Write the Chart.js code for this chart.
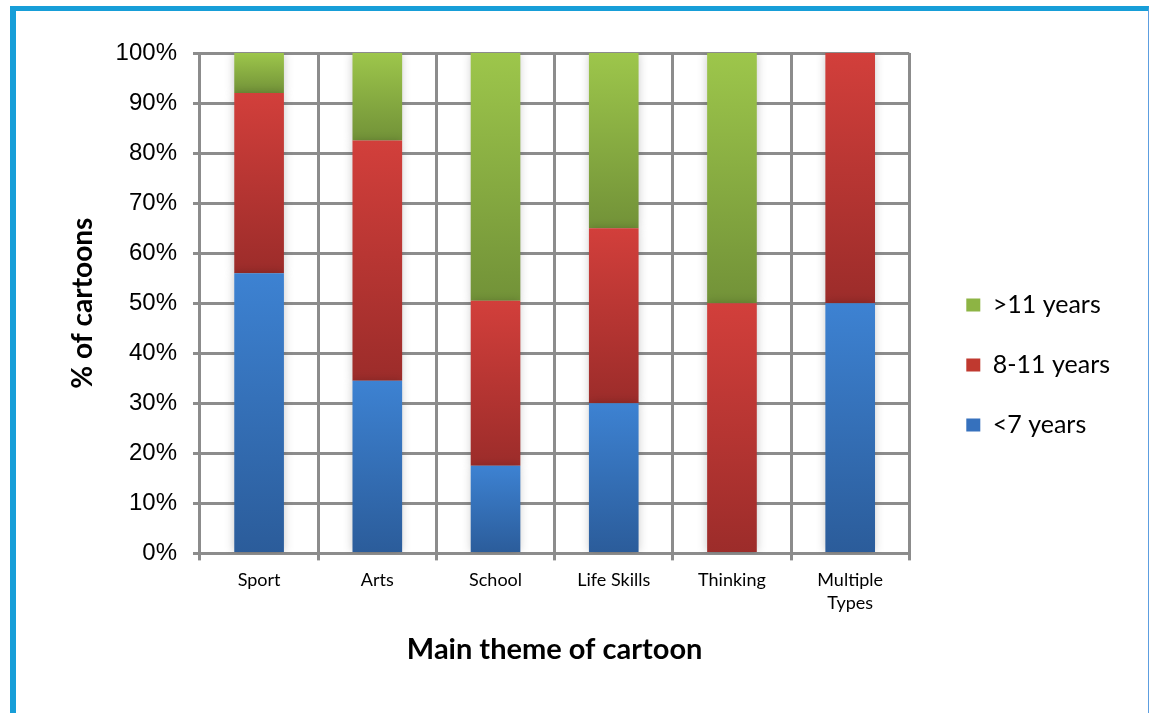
<!DOCTYPE html>
<html>
<head>
<meta charset="utf-8">
<title>Main theme of cartoon by age group</title>
<script src="https://cdn.jsdelivr.net/npm/chart.js@4.4.1/dist/chart.umd.min.js"></script>
<style>
  html, body { margin: 0; padding: 0; background: #fff; }
  body { width: 1149px; height: 713px; position: relative; overflow: hidden; }
  .frame {
    position: absolute; left: 10px; top: 6px; width: 1132px; height: 720px;
    border-top: 5px solid #179ed8; border-left: 6px solid #179ed8; border-right: 1px solid #5d9ee0;
  }
  .wrap { position: absolute; left: 0; top: 0; width: 1149px; height: 713px; }
</style>
</head>
<body>
<div class="frame"></div>
<div class="wrap"><canvas id="chart"></canvas></div>
<script>
// ── data ───────────────────────────────────────────────────────
const themes = ['Sport', 'Arts', 'School', 'Life Skills', 'Thinking', ['Multiple', 'Types']];
const under7 = [56, 34.5, 17.5, 30, 0, 50];
const age8to11 = [36, 48, 33, 35, 50, 50];
const over11 = [8, 17.5, 49.5, 35, 50, 0];
const yTicks = [0, 10, 20, 30, 40, 50, 60, 70, 80, 90, 100];

// top / bottom colours of each segment's vertical gradient
const palette = {
  blue:  { top: '#3d82d2', bottom: '#2b5c9a', flat: '#3671bd' },
  red:   { top: '#d23f3b', bottom: '#9c2c2a', flat: '#c0392f' },
  green: { top: '#9dc64b', bottom: '#729238', flat: '#8db444' }
};

const seriesList = [under7, age8to11, over11];

// each stacked segment gets its own gradient running from its top to its bottom
function segmentFill(colors) {
  return (ctx) => {
    if (ctx.type !== 'data') return colors.flat;
    const chart = ctx.chart;
    const y = chart.scales.y;
    if (!y || !chart.chartArea) return colors.flat;
    const i = ctx.dataIndex;
    let start = 0;
    for (let d = 0; d < ctx.datasetIndex; d++) start += seriesList[d][i];
    const end = start + seriesList[ctx.datasetIndex][i];
    const yTop = y.getPixelForValue(end);
    const yBottom = y.getPixelForValue(start);
    if (yBottom - yTop < 1) return colors.flat;
    const g = chart.ctx.createLinearGradient(0, yTop, 0, yBottom);
    g.addColorStop(0, colors.top);
    g.addColorStop(1, colors.bottom);
    return g;
  };
}

// soft drop shadow behind the bars
const barShadow = {
  id: 'barShadow',
  beforeDatasetsDraw(chart) {
    const c = chart.ctx;
    c.save();
    c.shadowColor = 'rgba(0,0,0,0.22)';
    c.shadowBlur = 9;
  },
  afterDatasetsDraw(chart) {
    chart.ctx.restore();
  }
};

// leave some air between the plot and the legend
const legendGap = 22;
const legendNudge = {
  id: 'legendNudge',
  afterLayout(chart) {
    const lg = chart.legend;
    if (!lg) return;
    const shift = chart.chartArea.right + legendGap - lg.left;
    lg.left += shift;
    lg.right += shift;
  }
};

const gridGrey = '#8c8c8c';

new Chart(document.getElementById('chart'), {
  type: 'bar',
  data: {
    labels: themes,
    datasets: [
      { label: '<7 years', data: under7, backgroundColor: segmentFill(palette.blue), legendColor: palette.blue.flat },
      { label: '8-11 years', data: age8to11, backgroundColor: segmentFill(palette.red), legendColor: palette.red.flat },
      { label: '>11 years', data: over11, backgroundColor: segmentFill(palette.green), legendColor: palette.green.flat }
    ]
  },
  options: {
    responsive: true,
    maintainAspectRatio: false,
    animation: false,
    events: [],
    datasets: {
      bar: { categoryPercentage: 1, barPercentage: 0.42, borderWidth: 0 }
    },
    layout: { padding: { left: 66, top: 53, right: 51, bottom: 36 } },
    plugins: {
      tooltip: { enabled: false },
      legend: {
        position: 'right',
        reverse: true,
        labels: {
          color: '#000',
          font: { family: 'Lato', size: 25 },
          boxWidth: 14,
          boxHeight: 13,
          padding: 35,
          generateLabels: (chart) => chart.data.datasets.map((ds, i) => ({
            text: ds.label,
            fillStyle: ds.legendColor,
            strokeStyle: ds.legendColor,
            lineWidth: 0,
            hidden: false,
            datasetIndex: i
          }))
        }
      }
    },
    scales: {
      x: {
        stacked: true,
        grid: { color: gridGrey, lineWidth: 3, offset: true, tickLength: 7, drawOnChartArea: true },
        border: { color: gridGrey, width: 3 },
        ticks: {
          color: '#000',
          font: { family: 'Lato', size: 18, lineHeight: 1.3 },
          padding: 8,
          maxRotation: 0
        },
        title: {
          display: true,
          text: 'Main theme of cartoon',
          color: '#000',
          font: { family: 'Lato', size: 29, weight: 'bold' },
          padding: { top: 9, bottom: 10 }
        }
      },
      y: {
        stacked: true,
        min: 0,
        max: 100,
        afterBuildTicks: (axis) => { axis.ticks = yTicks.map(v => ({ value: v })); },
        grid: { color: gridGrey, lineWidth: 3, tickLength: 7 },
        border: { color: gridGrey, width: 3 },
        ticks: {
          color: '#000',
          font: { family: 'Liberation Sans', size: 24 },
          padding: 16,
          callback: (v) => v + '%'
        },
        title: {
          display: true,
          text: '% of cartoons',
          color: '#000',
          font: { family: 'Lato', size: 28, weight: 'bold' },
          padding: { top: 0, bottom: 0 }
        }
      }
    }
  },
  plugins: [barShadow, legendNudge]
});
</script>
</body>
</html>
